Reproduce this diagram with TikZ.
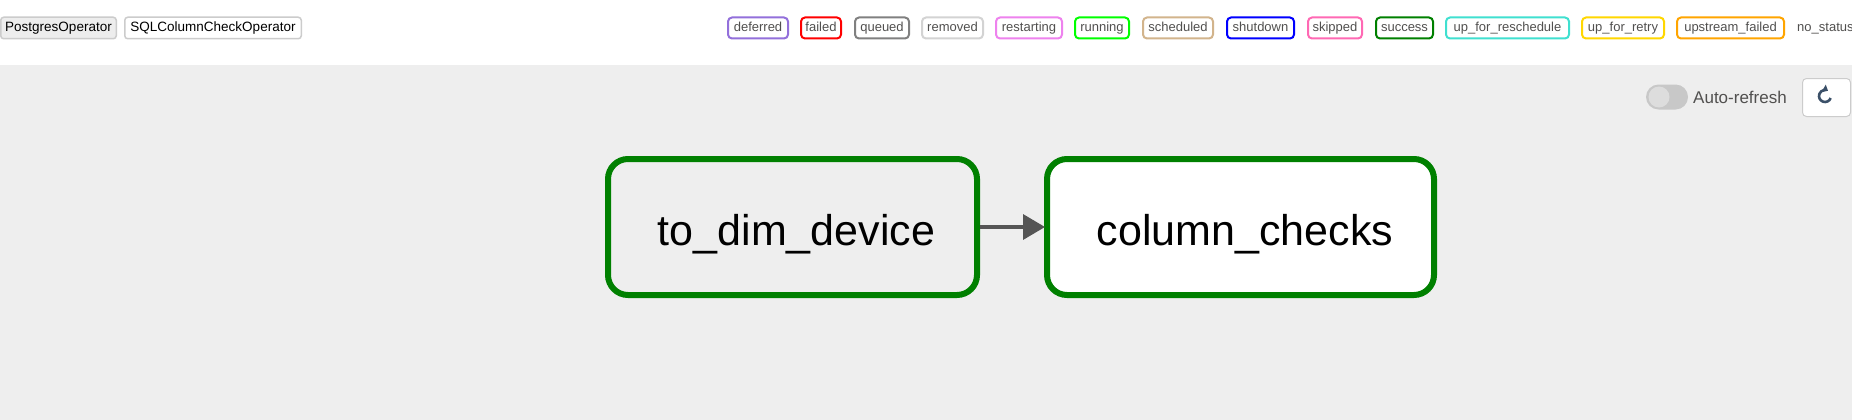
\documentclass[tikz,border=0pt]{standalone}
\usepackage{fontspec}
\setmainfont{Liberation Sans}
\usetikzlibrary{arrows.meta}
\definecolor{pagebg}{HTML}{EEEEEE}
\definecolor{btnborder}{HTML}{CCCCCC}
\definecolor{btnfill}{HTML}{EDEDED}
\definecolor{txtgray}{HTML}{51504F}
\definecolor{taskgreen}{HTML}{008000}
\definecolor{edgegray}{HTML}{555555}
\definecolor{icongray}{HTML}{3B5068}
\definecolor{togglegray}{HTML}{C8C8C8}
\definecolor{knobgray}{HTML}{DDDDDD}
\definecolor{cdeferred}{HTML}{9370DB}
\definecolor{cfailed}{HTML}{FF0000}
\definecolor{cqueued}{HTML}{808080}
\definecolor{cremoved}{HTML}{D3D3D3}
\definecolor{crestarting}{HTML}{EE82EE}
\definecolor{crunning}{HTML}{00FF00}
\definecolor{cscheduled}{HTML}{D2B48C}
\definecolor{cshutdown}{HTML}{0000FF}
\definecolor{cskipped}{HTML}{FF69B4}
\definecolor{csuccess}{HTML}{008000}
\definecolor{creschedule}{HTML}{40E0D0}
\definecolor{cretry}{HTML}{FFD700}
\definecolor{cupstream}{HTML}{FFA500}
\begin{document}
\begin{tikzpicture}[x=1pt,y=-1pt,
  legendbox/.style={draw, line width=2pt, rounded corners=4pt, minimum height=21pt,
    inner sep=0pt, text height=8pt, text depth=0pt, fill=white, text=txtgray,
    font=\fontsize{13}{15}\selectfont},
  opbtn/.style={draw=btnborder, line width=1.5pt, rounded corners=3pt, minimum height=21.5pt,
    inner sep=0pt, text height=8pt, text depth=0pt, text=black,
    font=\fontsize{13.5}{15}\selectfont},
  taskbox/.style={draw=taskgreen, line width=6pt, rounded corners=20pt, minimum height=136pt,
    inner sep=0pt, text height=36pt, text depth=0pt, text=black,
    font=\fontsize{43}{50}\selectfont},
  edge/.style={draw=edgegray, line width=3.5pt, -{Triangle[length=22pt,width=25pt]}}
]
\useasboundingbox (0,0) rectangle (1852,420);
\fill[white] (0,0) rectangle (1852,65);
\fill[pagebg] (0,65) rectangle (1852,420);

% operator buttons
\node[opbtn, fill=btnfill, minimum width=115.5pt] (pg) at (58.5,28) {PostgresOperator};
\node[opbtn, fill=white, minimum width=176.5pt] (sql) at (213,28) {SQLColumnCheckOperator};

% state legend
\node[legendbox, draw=cdeferred, minimum width=60pt] (deferred) at (758,28) {deferred};
\node[legendbox, draw=cfailed, minimum width=40pt] (failed) at (821,28) {failed};
\node[legendbox, draw=cqueued, minimum width=54pt] (queued) at (882,28) {queued};
\node[legendbox, draw=cremoved, minimum width=61pt] (removed) at (952.5,28) {removed};
\node[legendbox, draw=crestarting, minimum width=66pt] (restarting) at (1029,28) {restarting};
\node[legendbox, draw=crunning, minimum width=54pt] (running) at (1102,28) {running};
\node[legendbox, draw=cscheduled, minimum width=70pt] (scheduled) at (1178,28) {scheduled};
\node[legendbox, draw=cshutdown, minimum width=67pt] (shutdown) at (1260.5,28) {shutdown};
\node[legendbox, draw=cskipped, minimum width=54pt] (skipped) at (1335,28) {skipped};
\node[legendbox, draw=csuccess, minimum width=57pt] (success) at (1404.5,28) {success};
\node[legendbox, draw=creschedule, minimum width=123pt] (resched) at (1507.5,28) {up\_for\_reschedule};
\node[legendbox, draw=cretry, minimum width=82pt] (retry) at (1623,28) {up\_for\_retry};
\node[legendbox, draw=cupstream, minimum width=107pt] (upstream) at (1730.5,28) {upstream\_failed};
\node[anchor=base west, inner sep=0pt, text=txtgray, font=\fontsize{13}{15}\selectfont] (nostatus) at (1797,32) {no\_status};

% auto-refresh toggle
\fill[togglegray, rounded corners=12.5pt] (1646,84.5) rectangle (1688,109.5);
\node[circle, fill=knobgray, minimum size=21pt, inner sep=0pt] (knob) at (1659,97) {};
\node[anchor=west, inner sep=0pt, text=txtgray, font=\fontsize{17}{20}\selectfont] (autorefresh) at (1693,97) {Auto-refresh};

% refresh button
\node[draw=btnborder, line width=1pt, rounded corners=4pt, fill=white, minimum width=48pt,
  minimum height=38pt, inner sep=0pt] (refresh) at (1826.5,97.5) {};
\coordinate (iconc) at (1825,96);
\draw[icongray, line width=2.6pt, -{Triangle[length=5pt,width=8pt]}]
  (iconc) ++(20:6) arc (20:300:6);

% tasks
\node[taskbox, fill=pagebg, minimum width=369pt] (todim) at (792.5,227) {\hspace*{8pt}to\_dim\_device};
\node[taskbox, fill=white, minimum width=387pt] (colchecks) at (1240.5,227) {\hspace*{9pt}column\_checks};
\draw[edge, shorten >=-1pt] (todim.east) -- (colchecks.west);
\end{tikzpicture}
\end{document}
